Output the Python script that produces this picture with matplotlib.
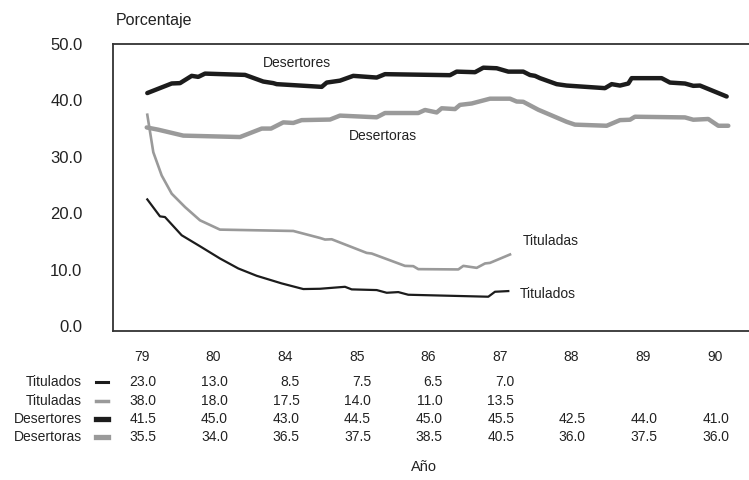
import matplotlib
matplotlib.use("Agg")
import matplotlib.pyplot as plt
from matplotlib.lines import Line2D
from matplotlib.transforms import blended_transform_factory

plt.rcParams['font.family'] = ['Liberation Sans', 'DejaVu Sans']

# ---- data ----
years = ["79", "80", "84", "85", "86", "87", "88", "89", "90"]
series_names = ["Titulados", "Tituladas", "Desertores", "Desertoras"]
table_titulados = ["23.0", "13.0", "8.5", "7.5", "6.5", "7.0", "", "", ""]
table_tituladas = ["38.0", "18.0", "17.5", "14.0", "11.0", "13.5", "", "", ""]
table_desertores = ["41.5", "45.0", "43.0", "44.5", "45.0", "45.5", "42.5", "44.0", "41.0"]
table_desertoras = ["35.5", "34.0", "36.5", "37.5", "38.5", "40.5", "36.0", "37.5", "36.0"]

# traced curves: position on the year axis (category index) and percentage
desertores_t = [0.074, 0.415, 0.531, 0.694, 0.786, 0.880, 1.439, 1.694, 1.834, 1.881,
                2.510, 2.580, 2.765, 2.951, 3.278, 3.394, 4.302, 4.395, 4.651, 4.767,
                4.954, 5.116, 5.325, 5.419, 5.489, 5.559, 5.792, 5.931, 6.466, 6.560,
                6.676, 6.792, 6.839, 7.258, 7.374, 7.584, 7.700, 7.793, 8.166]
desertores_v = [41.3, 43.0, 43.06, 44.35, 44.17, 44.75, 44.52, 43.34, 43.06, 42.88,
                42.4, 43.16, 43.5, 44.35, 44.05, 44.65, 44.47, 45.1, 45.0, 45.8,
                45.7, 45.1, 45.1, 44.5, 44.35, 43.94, 42.88, 42.63, 42.17, 42.88,
                42.63, 42.99, 43.94, 43.94, 43.16, 42.99, 42.58, 42.63, 40.69]

desertoras_t = [0.066, 0.228, 0.577, 1.369, 1.672, 1.802, 1.973, 2.113, 2.230, 2.626,
                2.765, 3.278, 3.394, 3.859, 3.953, 4.116, 4.186, 4.372, 4.441, 4.605,
                4.860, 5.140, 5.233, 5.325, 5.535, 5.698, 5.931, 6.047, 6.490, 6.676,
                6.816, 6.885, 7.584, 7.700, 7.909, 8.049, 8.189]
desertoras_v = [35.2, 34.8, 33.75, 33.5, 35.0, 35.0, 36.1, 36.0, 36.5, 36.6,
                37.3, 37.0, 37.76, 37.76, 38.3, 37.86, 38.6, 38.46, 39.2, 39.45,
                40.3, 40.3, 39.8, 39.75, 38.34, 37.46, 36.2, 35.7, 35.5, 36.5,
                36.57, 37.1, 36.98, 36.57, 36.7, 35.5, 35.5]

tituladas_t = [0.074, 0.158, 0.275, 0.415, 0.601, 0.810, 1.089, 2.113, 2.486, 2.556,
               2.649, 3.138, 3.208, 3.673, 3.789, 3.859, 4.418, 4.488, 4.675, 4.791,
               4.860, 5.140]
tituladas_v = [37.46, 30.8, 26.68, 23.45, 21.08, 18.73, 17.08, 16.84, 15.6, 15.32,
               15.37, 12.95, 12.84, 10.65, 10.6, 10.07, 10.02, 10.65, 10.3, 11.08,
               11.18, 12.67]

titulados_t = [0.074, 0.251, 0.321, 0.554, 0.810, 1.089, 1.345, 1.602, 1.951, 2.253,
               2.486, 2.835, 2.929, 3.278, 3.418, 3.580, 3.719, 4.837, 4.930, 5.116]
titulados_v = [22.44, 19.43, 19.31, 16.08, 14.13, 11.96, 10.19, 8.89, 7.54, 6.54,
               6.59, 6.94, 6.48, 6.36, 5.88, 6.0, 5.53, 5.18, 6.06, 6.18]

yticks = [0, 10, 20, 30, 40, 50]

# ---- styles ----
BLACK = "#1c1c1c"
GRAY = "#9a9a9a"
TXT = "#222222"
styles = {
    "Titulados": dict(color=BLACK, lw=1.6),
    "Tituladas": dict(color=GRAY, lw=1.9),
    "Desertores": dict(color=BLACK, lw=3.2),
    "Desertoras": dict(color=GRAY, lw=3.2),
}

W, H = 749, 480
fig = plt.figure(figsize=(W / 100, H / 100), dpi=100)
ax = fig.add_axes([113 / W, 1 - 331 / H, 1 - 113 / W, (331 - 44) / H])

ax.plot(desertores_t, desertores_v, solid_joinstyle="round", solid_capstyle="round", **styles["Desertores"])
ax.plot(desertoras_t, desertoras_v, solid_joinstyle="round", solid_capstyle="round", **styles["Desertoras"])
ax.plot(tituladas_t, tituladas_v, solid_joinstyle="round", **styles["Tituladas"])
ax.plot(titulados_t, titulados_v, solid_joinstyle="round", **styles["Titulados"])

ax.set_xlim(-0.405, 8.478)
ax.set_ylim(-0.9, 50)
ax.set_yticks(yticks)
ax.set_yticklabels([f"{v:.1f}" for v in yticks])
ax.set_xticks(range(len(years)))
ax.set_xticklabels(years)
ax.tick_params(axis="y", length=0, pad=22, labelsize=12, labelcolor=TXT)
ax.tick_params(axis="x", length=0, pad=14, labelsize=10, labelcolor=TXT)
for s in ["left", "top", "bottom"]:
    ax.spines[s].set_color("#333333")
    ax.spines[s].set_linewidth(1.3)
ax.spines["right"].set_visible(False)

# in-plot labels
ax.text(2.165, 46.6, "Desertores", ha="center", va="center", fontsize=10, color=TXT)
ax.text(3.366, 33.6, "Desertoras", ha="center", va="center", fontsize=10, color=TXT)
ax.text(5.32, 15.0, "Tituladas", ha="left", va="center", fontsize=10, color=TXT)
ax.text(5.28, 5.65, "Titulados", ha="left", va="center", fontsize=10, color=TXT)

fig.text(116 / W, 1 - 20 / H, "Porcentaje", ha="left", va="center", fontsize=11.5, color=TXT)

# data table
rows = [table_titulados, table_tituladas, table_desertores, table_desertoras]
row_y = [382, 401, 419, 437]
tr = blended_transform_factory(ax.transData, fig.transFigure)
for name, vals, yy in zip(series_names, rows, row_y):
    yf = 1 - yy / H
    fig.text(82 / W, yf, name, ha="right", va="center", fontsize=10, color=TXT)
    st = styles[name]
    fig.add_artist(Line2D([96 / W, 108 / W], [yf, yf], transform=fig.transFigure,
                          color=st["color"], lw=st["lw"] + 0.6))
    for i, v in enumerate(vals):
        if v:
            ax.text(i + 0.2, yf, v, transform=tr, ha="right", va="center",
                    fontsize=10, color=TXT, clip_on=False)

fig.text(424 / W, 1 - 467 / H, "Año", ha="center", va="center", fontsize=10.5, color=TXT)

fig.savefig("out.png", dpi=100)
